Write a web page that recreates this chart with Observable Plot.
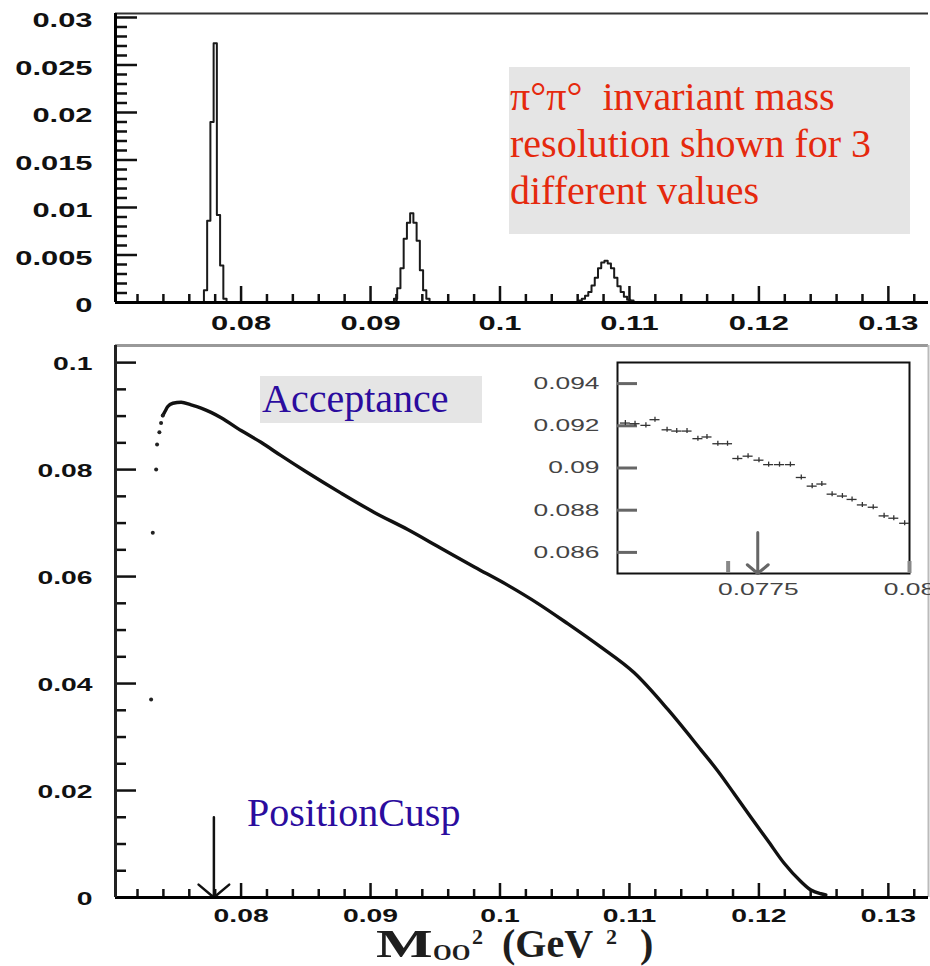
<!DOCTYPE html>
<html><head><meta charset="utf-8">
<script src="https://cdn.jsdelivr.net/npm/d3@7"></script>
<script src="https://cdn.jsdelivr.net/npm/@observablehq/plot@0.6"></script>
<style>
body{margin:0;background:#fff;}
#page{position:relative;width:930px;height:966px;overflow:hidden;background:#fff;}
.abs{position:absolute;}
.ser{position:absolute;font-family:"Liberation Serif","Times New Roman",serif;white-space:pre;line-height:1;}
.ttl{position:absolute;font-family:"Liberation Serif","Times New Roman",serif;white-space:pre;font-weight:bold;color:#1e1e1e;}
</style></head><body>
<div id="page">
  <div id="top" class="abs" style="left:0;top:0"></div>
  <div id="bottom" class="abs" style="left:0;top:336px"></div>
  <div id="inset" class="abs" style="left:500px;top:350px"></div>

  <div class="abs" style="left:509px;top:67px;width:401px;height:167px;background:#e5e5e5"></div>
  <div class="ser" style="left:510px;top:76.5px;font-size:40px;color:#e5290d">π°π°  invariant mass</div>
  <div class="ser" style="left:510px;top:123.5px;font-size:40px;color:#e5290d">resolution shown for 3</div>
  <div class="ser" style="left:510px;top:170.5px;font-size:40px;color:#e5290d">different values</div>

  <div class="abs" style="left:260px;top:376px;width:222px;height:47px;background:#e5e5e5"></div>
  <div class="ser" style="left:262px;top:378.5px;font-size:40px;color:#2b0c9e">Acceptance</div>
  <div class="ser" style="left:247px;top:792.5px;font-size:40px;color:#2b0c9e">PositionCusp</div>

  <div class="ttl" style="left:376px;top:927.5px;font-size:40px;line-height:32px;transform:scaleX(1.5);transform-origin:left top">M</div>
  <div class="ttl" style="left:433px;top:941.9px;font-size:24px;line-height:20px">OO</div>
  <div class="ttl" style="left:472px;top:927.6px;font-size:22px;line-height:18px">2</div>
  <div class="ttl" style="left:502px;top:927.5px;font-size:40px;line-height:32px">(GeV</div>
  <div class="ttl" style="left:606px;top:927.6px;font-size:22px;line-height:18px">2</div>
  <div class="ttl" style="left:640px;top:927.5px;font-size:40px;line-height:32px">)</div>
</div>
<script>
// ---------------- data ----------------
// top panel: pi0 pi0 invariant mass resolution histograms (bin edges, n+1 values; heights, n values)
const peak1Edges = [0.07713, 0.07738, 0.07763, 0.07788, 0.07813, 0.07838, 0.07863, 0.07888];
const peak1Heights = [0.0013, 0.0086, 0.0190, 0.0273, 0.0092, 0.0039, 0.0004];
const peak2Edges = [0.09181, 0.09206, 0.09231, 0.09256, 0.09281, 0.09306, 0.09331, 0.09356, 0.09381, 0.09406, 0.09431, 0.09456];
const peak2Heights = [0.0004, 0.0015, 0.0036, 0.0067, 0.0084, 0.0094, 0.0084, 0.0065, 0.0034, 0.0013, 0.0004];
const peak3Edges = [0.10607, 0.10632, 0.10657, 0.10682, 0.10707, 0.10732, 0.10757, 0.10782, 0.10807, 0.10832, 0.10857, 0.10882, 0.10907, 0.10932, 0.10957, 0.10982, 0.11007, 0.11032];
const peak3Heights = [0.0002, 0.0004, 0.0007, 0.0011, 0.0018, 0.0026, 0.0036, 0.0042, 0.0044, 0.0041, 0.0036, 0.0026, 0.0017, 0.0011, 0.0006, 0.0003, 0.0002];

// bottom panel: acceptance
const accDotsX = [0.07305, 0.07318, 0.07344, 0.07351, 0.07369, 0.07382, 0.07395];
const accDotsY = [0.0370, 0.0682, 0.0800, 0.0847, 0.0870, 0.0887, 0.0901];
const accX = [0.07395, 0.07413, 0.07434, 0.07473, 0.07537, 0.07614, 0.07691, 0.07768, 0.07846, 0.08000, 0.08154, 0.08309, 0.08515, 0.08772, 0.09029, 0.09287, 0.09544, 0.09802, 0.10059, 0.10291, 0.10523, 0.10780, 0.11037, 0.11295, 0.11552, 0.11681, 0.11809, 0.11938, 0.12067, 0.12195, 0.12324, 0.12402, 0.12479, 0.12517];
const accY = [0.0901, 0.0909, 0.0918, 0.0924, 0.0926, 0.0921, 0.0915, 0.0907, 0.0897, 0.0873, 0.0851, 0.0826, 0.0794, 0.0756, 0.0720, 0.0688, 0.0653, 0.0618, 0.0584, 0.0550, 0.0512, 0.0468, 0.0420, 0.0352, 0.0276, 0.0237, 0.0194, 0.0150, 0.0107, 0.0064, 0.0030, 0.0014, 0.0007, 0.0005];

// inset: zoom of acceptance near the cusp
const insetX = [0.07530, 0.07546, 0.07564, 0.07579, 0.07599, 0.07615, 0.07632, 0.07650, 0.07665, 0.07683, 0.07699, 0.07716, 0.07733, 0.07751, 0.07767, 0.07785, 0.07803, 0.07821, 0.07839, 0.07855, 0.07872, 0.07889, 0.07905, 0.07922, 0.07940, 0.07958, 0.07974, 0.07992];
const insetY = [0.09213, 0.09210, 0.09202, 0.09229, 0.09181, 0.09175, 0.09175, 0.09139, 0.09147, 0.09115, 0.09115, 0.09045, 0.09056, 0.09037, 0.09016, 0.09016, 0.09016, 0.08955, 0.08914, 0.08924, 0.08876, 0.08867, 0.08851, 0.08825, 0.08814, 0.08773, 0.08762, 0.08738];
const insetXErr = 0.000083;
const insetYErr = 0.00012;

// cusp position markers
const cuspX = 0.0779, cuspArrowTop = 0.015;
const insetCuspX = 0.07749, insetCuspTop = 0.08694;

// axes
const xDomain = [0.0703, 0.1331];
const topYDomain = [0, 0.03042];
const botYDomain = [0, 0.1032];
const insetXDomain = [0.07517, 0.08];
const insetYDomain = [0.085, 0.095];
const xTickLabels = [0.08, 0.09, 0.1, 0.11, 0.12, 0.13];
const topYTickLabels = [0, 0.005, 0.01, 0.015, 0.02, 0.025, 0.03];
const botYTickLabels = [0, 0.02, 0.04, 0.06, 0.08, 0.1];
const insetXTickLabels = [0.0775, 0.08];
const insetXTickMarks = [0.077, 0.08];
const insetYTickLabels = [0.086, 0.088, 0.09, 0.092, 0.094];

const xMinor = d3.range(0.072, 0.1321, 0.002).filter(v => Math.abs(v * 100 - Math.round(v * 100)) > 1e-6);
const topYMinor = d3.range(0.001, 0.0301, 0.001).filter(v => Math.abs(v * 200 - Math.round(v * 200)) > 1e-6);
const botYMinor = d3.range(0.005, 0.1001, 0.005).filter(v => Math.abs(v * 50 - Math.round(v * 50)) > 1e-6);

// ---------------- build tables ----------------
function histPts(edges, heights) {
  const pts = [{x: edges[0], y: 0}];
  heights.forEach((h, i) => pts.push({x: edges[i], y: h}));
  pts.push({x: edges[edges.length - 1], y: 0});
  return pts;
}
const peaks = [histPts(peak1Edges, peak1Heights), histPts(peak2Edges, peak2Heights), histPts(peak3Edges, peak3Heights)];
const acc = accX.map((x, i) => ({x, y: accY[i]}));
const accDots = accDotsX.map((x, i) => ({x, y: accDotsY[i]}));
const insetPts = insetX.map((x, i) => ({x, y: insetY[i]}));
const fmt = d => String(+d.toFixed(4));
const sans = "Liberation Sans, Arial, Helvetica, sans-serif";

// ---------------- top panel ----------------
const topH = 302 - 13, topW = 928 - 115;
const topPlot = Plot.plot({
  width: 930, height: 336, marginLeft: 115, marginRight: 2, marginTop: 13, marginBottom: 34,
  style: {background: "transparent", overflow: "visible"},
  x: {domain: xDomain}, y: {domain: topYDomain},
  marks: [
    Plot.ruleY([topYDomain[1]], {stroke: "#333", strokeWidth: 2}),
    Plot.tickX(xMinor, {insetTop: topH - 8, stroke: "#111", strokeWidth: 2.5}),
    Plot.tickX(xTickLabels, {insetTop: topH - 16, stroke: "#111", strokeWidth: 2.5}),
    Plot.tickY(topYMinor, {insetRight: topW - 12, stroke: "#111", strokeWidth: 2.5}),
    Plot.tickY(topYTickLabels, {insetRight: topW - 22, stroke: "#111", strokeWidth: 2.5}),
    ...peaks.map(p => Plot.line(p, {x: "x", y: "y", curve: "step-after", stroke: "#1a1a1a", strokeWidth: 2})),
    Plot.ruleY([0], {stroke: "#000", strokeWidth: 3}),
    Plot.ruleX([xDomain[0]], {stroke: "#000", strokeWidth: 3}),
    Plot.axisX({ticks: xTickLabels, tickSize: 0, tickPadding: 13, tickFormat: fmt, label: null,
      fontSize: 21, fontWeight: "bold", fontFamily: sans, fill: "#111"}),
    Plot.axisY({ticks: topYTickLabels, tickSize: 0, tickPadding: 23, tickFormat: fmt, label: null, dy: 3,
      fontSize: 21, fontWeight: "bold", fontFamily: sans, fill: "#111"})
  ]
});

// ---------------- bottom panel ----------------
const botH = 897 - 345, botW = 928 - 115;
const botPlot = Plot.plot({
  width: 930, height: 614, marginLeft: 115, marginRight: 2, marginTop: 9, marginBottom: 53,
  style: {background: "transparent", overflow: "visible"},
  x: {domain: xDomain}, y: {domain: botYDomain},
  marks: [
    Plot.ruleY([botYDomain[1]], {stroke: "#999", strokeWidth: 3}),
    Plot.ruleX([xDomain[1]], {stroke: "#bbb", strokeWidth: 2}),
    Plot.tickX(xMinor, {insetTop: botH - 8, stroke: "#111", strokeWidth: 2.5}),
    Plot.tickX(xTickLabels, {insetTop: botH - 14, stroke: "#111", strokeWidth: 2.5}),
    Plot.tickY(botYMinor, {insetRight: botW - 11, stroke: "#111", strokeWidth: 2.5}),
    Plot.tickY(botYTickLabels, {insetRight: botW - 21, stroke: "#111", strokeWidth: 2.5}),
    Plot.line(acc, {x: "x", y: "y", curve: "monotone-x", stroke: "#111", strokeWidth: 3.4}),
    Plot.dot(accDots, {x: "x", y: "y", r: 2, fill: "#222", stroke: null}),
    Plot.arrow([{x: cuspX}], {x1: "x", x2: "x", y1: () => cuspArrowTop, y2: () => 0,
      stroke: "#111", strokeWidth: 2.5, headLength: 12, headAngle: 100}),
    Plot.ruleY([0], {stroke: "#000", strokeWidth: 3}),
    Plot.ruleX([xDomain[0]], {stroke: "#222", strokeWidth: 3}),
    Plot.axisX({ticks: xTickLabels, tickSize: 0, tickPadding: 11, tickFormat: fmt, label: null,
      fontSize: 19, fontWeight: "bold", fontFamily: sans, fill: "#111"}),
    Plot.axisY({ticks: botYTickLabels, tickSize: 0, tickPadding: 23, tickFormat: fmt, label: null, dy: 1,
      fontSize: 19, fontWeight: "bold", fontFamily: sans, fill: "#111"})
  ]
});

// ---------------- inset ----------------
const insH = 573 - 362, insW = 909 - 617;
const insetPlot = Plot.plot({
  width: 430, height: 260, marginLeft: 117, marginRight: 21, marginTop: 12, marginBottom: 37,
  style: {background: "transparent"},
  x: {domain: insetXDomain}, y: {domain: insetYDomain},
  marks: [
    Plot.frame({fill: "white", stroke: "#111", strokeWidth: 2}),
    Plot.tickY(insetYTickLabels, {insetRight: insW - 20, stroke: "#666", strokeWidth: 3}),
    Plot.tickX(insetXTickMarks, {insetTop: insH - 12, stroke: "#888", strokeWidth: 4}),
    Plot.ruleY(insetPts, {y: "y", x1: d => d.x - insetXErr, x2: d => d.x + insetXErr, stroke: "#333", strokeWidth: 1.3}),
    Plot.ruleX(insetPts, {x: "x", y1: d => d.y - insetYErr, y2: d => d.y + insetYErr, stroke: "#333", strokeWidth: 1.3}),
    Plot.arrow([{x: insetCuspX}], {x1: "x", x2: "x", y1: () => insetCuspTop, y2: () => insetYDomain[0],
      stroke: "#666", strokeWidth: 3, headLength: 10, headAngle: 100}),
    Plot.axisX({ticks: insetXTickLabels, tickSize: 0, tickPadding: 9, tickFormat: fmt, label: null,
      fontSize: 17, fontFamily: sans, fill: "#444"}),
    Plot.axisY({ticks: insetYTickLabels, tickSize: 0, tickPadding: 18, tickFormat: fmt, label: null,
      fontSize: 17, fontFamily: sans, fill: "#444"})
  ]
});

document.getElementById("top").append(topPlot);
document.getElementById("bottom").append(botPlot);
document.getElementById("inset").append(insetPlot);

// horizontally stretched tick labels, as in the reference
function stretch(svg, factor) {
  svg.querySelectorAll('g[aria-label$="tick label"] text').forEach(t => {
    const len = t.getComputedTextLength();
    t.setAttribute("textLength", (len * factor).toFixed(1));
    t.setAttribute("lengthAdjust", "spacingAndGlyphs");
  });
}
stretch(topPlot, 1.47);
stretch(botPlot, 1.49);
stretch(insetPlot, 1.55);
</script>
</body></html>
